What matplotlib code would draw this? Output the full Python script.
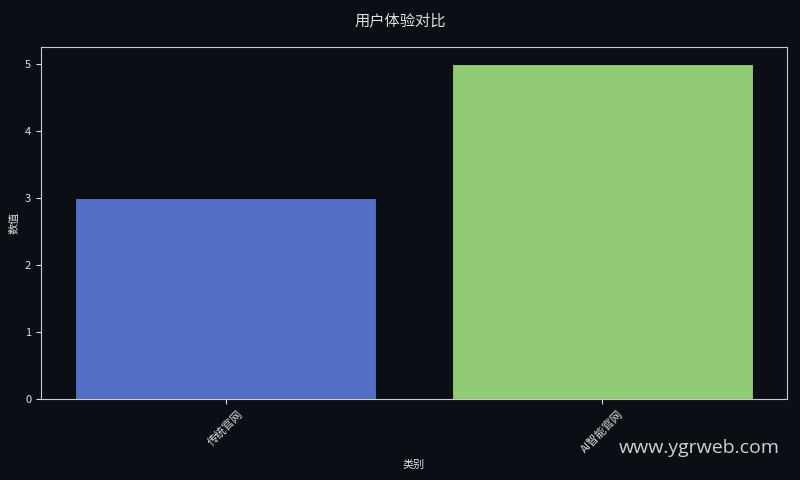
import matplotlib
matplotlib.use("Agg")
import matplotlib.pyplot as plt

categories = ["传统官网", "AI智能官网"]
values = [3, 5]
colors = ["#5470c6", "#91cc75"]

plt.rcParams['font.family'] = ['Noto Sans CJK SC', 'DejaVu Sans']
bg = "#0b0e14"
fg = "#e0e0e0"

fig = plt.figure(figsize=(8, 4.8), dpi=100, facecolor=bg)
ax = fig.add_axes([41/800, 1-399/480, 746/800, 352/480])
ax.set_facecolor(bg)
ax.bar(categories, values, color=colors, width=0.8, edgecolor=bg, linewidth=0.8)
for s in ax.spines.values():
    s.set_color("#cccccc")
ax.tick_params(colors=fg, labelsize=8)
plt.setp(ax.get_xticklabels(), rotation=45, ha="center")
ax.set_xlabel("类别", color=fg, fontsize=8)
ax.set_ylabel("数值", color=fg, fontsize=8)
fig.suptitle("用户体验对比", color=fg, fontsize=11, y=0.975)
fig.text(0.975, 0.067, "www.ygrweb.com", color="#d0d0d0", fontsize=14, ha="right", va="center",
         family=['Open Sans', 'DejaVu Sans'])
fig.savefig("out.png", facecolor=bg)
